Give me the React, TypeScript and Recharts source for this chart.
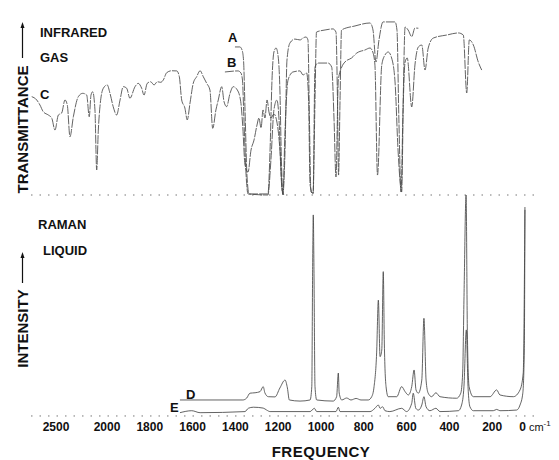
import { LineChart, Line, XAxis, YAxis, ReferenceLine } from "recharts";

// frequency (cm-1), transmittance (%) - infrared, gas
const irC = [
  [2738, 56.2], [2689, 54.3], [2657, 51.4], [2625, 47.6], [2575, 45.7], [2542, 44], [2510, 37.1],
  [2477, 45.7], [2444, 46.9], [2412, 54.3], [2389, 51.4], [2363, 33.3], [2330, 44.7], [2281, 56.2],
  [2238, 58.1], [2199, 57.1], [2174, 44.7], [2157, 57.1], [2140, 59], [2118, 48.6], [2101, 14.3],
  [2085, 37.1], [2069, 50.5], [2036, 61], [1999, 62.9], [1986, 58.1], [1971, 50.5], [1955, 45.7],
  [1939, 54.3], [1924, 61.9], [1908, 61], [1893, 55.3], [1869, 61.9], [1854, 63.8], [1838, 61],
  [1827, 57.1], [1812, 63.8], [1796, 64.7], [1780, 62.9], [1765, 64.7], [1749, 64.4], [1737, 65.7],
  [1721, 69.9], [1698, 71], [1674, 70.9], [1662, 67.6], [1651, 54.3], [1636, 49.7], [1625, 42.9],
  [1612, 52.6], [1597, 63.8], [1581, 67.6], [1565, 71], [1550, 67.6], [1534, 63.8], [1519, 60],
  [1506, 38.1], [1491, 48.6], [1480, 54.3], [1464, 61.9], [1453, 53.3], [1441, 50.5], [1425, 58.1],
  [1410, 61.9], [1391, 60], [1375, 53.3], [1366, 40], [1355, 17.1], [1341, 13.1], [1327, 25.7],
  [1313, 31.4], [1299, 40], [1290, 44], [1280, 38.3], [1271, 48.6], [1262, 44], [1252, 54.3],
  [1243, 47.4], [1234, 44], [1220, 46.3], [1206, 41.7], [1192, 25.7], [1182, 2.9], [1173, 0],
];

const irA = [
  [1402, 84.6], [1379, 84.6], [1369, 82.9], [1362, 77.1], [1355, 48.6], [1346, 11.4], [1336, 0.6],
  [1248, 0.6], [1238, 25.7], [1229, 65.7], [1220, 81.7], [1210, 84], [1201, 80], [1192, 60],
  [1185, 20], [1178, 0.6], [1168, 25.7], [1159, 77.1], [1145, 86.9], [1122, 89.1], [1098, 88.6],
  [1084, 89.7], [1070, 90.3], [1061, 88.6], [1054, 42.9], [1047, 1.7], [1037, 1.1], [1028, 54.3],
  [1021, 93.1], [981, 94.3], [944, 94.9], [930, 93.1], [923, 54.3], [918, 11.4], [911, 54.3],
  [904, 94.3], [841, 96.6], [771, 98.3], [757, 94.3], [743, 76], [729, 88.6], [710, 98.9],
  [654, 98.9], [645, 94.3], [636, 42.9], [626, 1.7], [617, 48.6], [607, 96], [593, 94.3],
  [576, 90.5], [561, 95.4], [545, 95.3],
];

const irB = [
  [1449, 70.3], [1388, 70.9], [1374, 69.7], [1367, 65.7], [1360, 42.9], [1350, 11.4], [1341, 0.6],
  [1248, 0], [1234, 20], [1220, 48.6], [1206, 54.3], [1196, 42.9], [1187, 14.3], [1178, 0],
  [1168, 37.1], [1154, 65.7], [1131, 70.3], [1098, 70.9], [1084, 68.6], [1067, 69.7], [1058, 54.3],
  [1051, 5.7], [1037, 0.6], [1028, 73.1], [1014, 75.4], [967, 75.4], [950, 73.1], [939, 42.9],
  [930, 10.3], [919, 65.7], [903, 73.1], [888, 76], [857, 78.3], [833, 81.1], [794, 82.9],
  [771, 84], [758, 81.7], [748, 74.3], [736, 11.4], [716, 74.3], [701, 80], [686, 81.7],
  [670, 78.3], [654, 64.6], [640, 25.7], [623, 1.7], [615, 54.3], [607, 76], [597, 78.3],
  [576, 50.3], [561, 74.3], [545, 84.6], [529, 85.7], [514, 71.4], [499, 84], [475, 89.7],
  [413, 91.4], [358, 92.6], [335, 91.4], [319, 58.3], [307, 88.6], [288, 85.7], [265, 76], [249, 71.4],
];

// frequency (cm-1), relative intensity - raman, liquid
const ramanD = [
  [1659, 6.4], [1365, 6.4], [1347, 7.3], [1332, 9.5], [1308, 9.7], [1285, 10.2], [1270, 12.5],
  [1262, 9.6], [1246, 7.9], [1215, 7.8], [1192, 11.9], [1168, 15.5], [1157, 11.9], [1148, 6.4],
  [1098, 5.9], [1051, 6.4], [1043, 12.5], [1039, 67.3], [1036, 90.9], [1033, 67.3], [1028, 12.5],
  [1020, 6.4], [943, 5.9], [927, 7.9], [919, 18.7], [915, 9.6], [903, 6.4], [880, 7.3], [860, 6.4],
  [836, 7.1], [813, 6.4], [779, 6.4], [763, 7.9], [752, 12.5], [740, 27.9], [732, 52], [724, 26.2],
  [716, 29.2], [709, 65], [704, 32.4], [696, 12.5], [686, 7.9], [646, 7.9], [623, 12.5], [607, 10.2],
  [592, 8.7], [576, 12.5], [565, 20.1], [556, 11], [545, 9.5], [529, 15.5], [519, 43.7], [509, 15.5],
  [499, 9.5], [483, 7.9], [463, 9.7], [444, 7.9], [366, 7.2], [347, 9.5], [338, 18.7], [332, 52],
  [322, 100], [316, 37], [308, 12.5], [288, 7.9], [210, 7.9], [179, 11], [164, 8.7], [101, 7.9],
  [70, 11], [55, 18.7], [47, 94.5],
];

const ramanE = [
  [1659, 0.6], [1604, 1.5], [1565, 0.6], [1355, 1.1], [1340, 2.6], [1316, 3.1], [1270, 2.7],
  [1254, 1.8], [1238, 1.1], [1051, 1.1], [1031, 2.6], [1020, 1.1], [930, 1.1], [919, 3.1],
  [911, 1.1], [771, 1.1], [748, 2.6], [732, 4.1], [724, 2.6], [712, 3.3], [701, 1.5], [678, 1.1],
  [623, 2.6], [600, 1.1], [576, 4.9], [569, 9.5], [557, 2.6], [545, 1.8], [529, 4.1], [519, 7.9],
  [509, 3.3], [491, 1.5], [463, 2.6], [444, 1.1], [358, 1.5], [343, 4.1], [332, 12.5], [321, 38.4],
  [313, 12.5], [304, 3.3], [288, 1.5], [195, 1.5], [179, 2.1], [164, 1.5], [86, 1.8], [70, 4.1],
  [57, 9.5], [50, 29.2], [47, 93.2],
];

const freqTicks = [2500, 2000, 1800, 1600, 1400, 1200, 1000, 800, 600, 400, 200, 0];

// the scale is compressed above 2000 cm-1
const SQUEEZE = 0.4766;
const toU = (f: number) => (f <= 2000 ? f : 2000 + (f - 2000) * SQUEEZE);
const fromU = (u: number) => (u <= 2000 ? u : 2000 + (u - 2000) / SQUEEZE);
const build = (pts: number[][]) => pts.map(([f, v]) => ({ u: toU(f), v }));

const U_DOMAIN = [-9.35, 2355.1];
const INK = "#474747";
const FONT = "'Liberation Sans', Arial, sans-serif";

function FreqTick(props: any) {
  const { x, y, payload } = props;
  const f = Math.round(fromU(payload.value));
  if (f === 0) {
    return (
      <text x={x} y={y + 8} textAnchor="middle" fill="#111" fontFamily={FONT}>
        <tspan fontSize={12} fontWeight="bold">0</tspan>
        <tspan fontSize={11} dx={3}>cm</tspan>
        <tspan fontSize={8} dy={-5}>-1</tspan>
      </text>
    );
  }
  return (
    <text x={x} y={y + 8} textAnchor="middle" fill="#111" fontFamily={FONT} fontSize={12} fontWeight="bold">
      {f}
    </text>
  );
}

const lineProps = {
  dataKey: "v",
  type: "monotone" as const,
  stroke: INK,
  strokeWidth: 0.85,
  dot: false,
  activeDot: false,
  isAnimationActive: false,
};

export default function App() {
  return (
    <div style={{ position: "absolute", left: 0, top: 0, width: 559, height: 460, background: "#fff" }}>
      {/* infrared panel */}
      <div style={{ position: "absolute", left: 0, top: 0 }}>
        <LineChart width={559} height={200} margin={{ top: 20, right: 22, bottom: 5, left: 31 }}>
          <XAxis type="number" dataKey="u" domain={U_DOMAIN} reversed hide allowDataOverflow />
          <YAxis type="number" domain={[0, 100]} hide />
          <ReferenceLine y={0} stroke="#777" strokeDasharray="1.5 7" />
          <Line {...lineProps} data={build(irC)} name="C" strokeDasharray="9 1.2" />
          <Line {...lineProps} data={build(irB)} name="B" strokeDasharray="9 1.2" />
          <Line {...lineProps} data={build(irA)} name="A" strokeDasharray="9 1.2" />
        </LineChart>
      </div>

      {/* raman panel */}
      <div style={{ position: "absolute", left: 0, top: 190 }}>
        <LineChart width={559} height={270} margin={{ top: 5, right: 22, bottom: 0, left: 31 }}>
          <XAxis
            type="number"
            dataKey="u"
            domain={U_DOMAIN}
            reversed
            allowDataOverflow
            height={46}
            ticks={freqTicks.map(toU)}
            interval={0}
            axisLine={false}
            tickLine={false}
            tickSize={0}
            tickMargin={9}
            tick={<FreqTick />}
          />
          <YAxis type="number" domain={[0, 100]} hide />
          <ReferenceLine y={-0.9} ifOverflow="visible" stroke="#777" strokeDasharray="1.5 7" />
          <Line {...lineProps} data={build(ramanE)} name="E" />
          <Line {...lineProps} data={build(ramanD)} name="D" />
        </LineChart>
      </div>

      {/* labels */}
      <svg
        width={559}
        height={460}
        style={{ position: "absolute", left: 0, top: 0, pointerEvents: "none" }}
        fontFamily={FONT}
        fontWeight="bold"
        fill="#111"
      >
        <text x={40} y={36.7} fontSize={13}>INFRARED</text>
        <text x={40} y={61.6} fontSize={13}>GAS</text>
        <text x={40} y={98.6} fontSize={13}>C</text>
        <text x={228} y={41.5} fontSize={13}>A</text>
        <text x={227} y={67} fontSize={13}>B</text>
        <text x={38} y={228.6} fontSize={13}>RAMAN</text>
        <text x={43} y={254.6} fontSize={13}>LIQUID</text>
        <text x={186} y={398.6} fontSize={13}>D</text>
        <text x={170} y={411.6} fontSize={13}>E</text>
        <text x={321} y={457} fontSize={15} textAnchor="middle" letterSpacing={0.5}>FREQUENCY</text>

        <text x={28} y={129.5} fontSize={15} textAnchor="middle" transform="rotate(-90 28 129.5)">
          TRANSMITTANCE
        </text>
        <line x1={22.5} y1={58} x2={22.5} y2={26} stroke="#111" strokeWidth={1.2} />
        <polygon points="22.5,22 20.5,28 24.5,28" fill="#111" />

        <text x={28} y={328.5} fontSize={15} textAnchor="middle" transform="rotate(-90 28 328.5)">
          INTENSITY
        </text>
        <line x1={22.5} y1={283} x2={22.5} y2={256} stroke="#111" strokeWidth={1.2} />
        <polygon points="22.5,252 20.5,258 24.5,258" fill="#111" />
      </svg>
    </div>
  );
}
